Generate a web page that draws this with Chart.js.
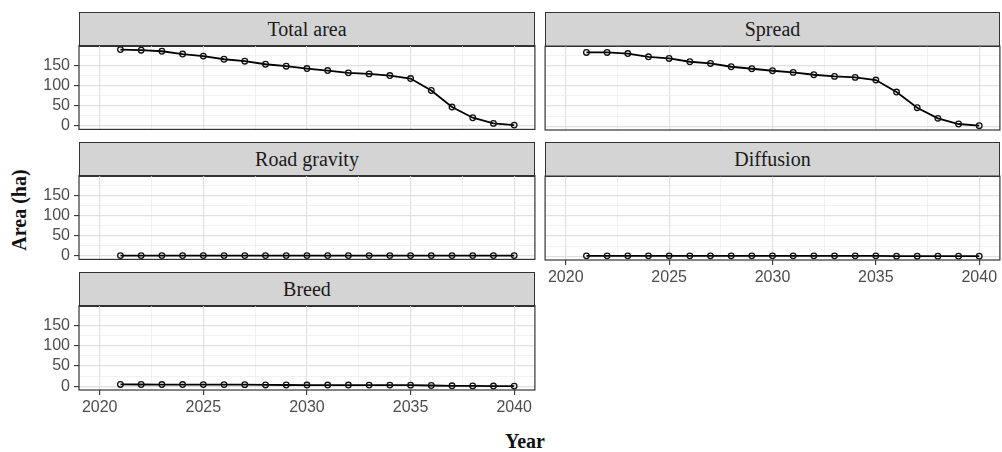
<!DOCTYPE html>
<html>
<head>
<meta charset="utf-8">
<title>Area by growth type, 2021–2040</title>
<script src="https://cdn.jsdelivr.net/npm/chart.js@4.4.1/dist/chart.umd.min.js"></script>
<style>
  html, body { margin: 0; padding: 0; background: #ffffff; }
  body { width: 1002px; height: 452px; position: relative; overflow: hidden; }
  .strip {
    position: absolute; box-sizing: border-box;
    background: #d4d4d4; border: 1px solid #333333;
    font-family: "Liberation Serif", "Times New Roman", serif;
    font-size: 20px; color: #1a1a1a;
    display: flex; align-items: center; justify-content: center;
  }
  canvas.panel { position: absolute; }
  .axis-title {
    position: absolute; white-space: nowrap;
    font-family: "Liberation Serif", "Times New Roman", serif;
    font-weight: bold; font-size: 20px; color: #111111;
    transform: translate(-50%, -50%);
  }
  .axis-title.vertical { transform: translate(-50%, -50%) rotate(-90deg); }
</style>
</head>
<body>
<div class="axis-title vertical" style="left:18.5px; top:210px;">Area (ha)</div>
<div class="axis-title" style="left:525px; top:441px;">Year</div>
<script>
// Simulated years
const years = [2021, 2022, 2023, 2024, 2025, 2026, 2027, 2028, 2029, 2030,
               2031, 2032, 2033, 2034, 2035, 2036, 2037, 2038, 2039, 2040];

// Urban growth area (ha) for each growth type
const totalArea   = [188.5, 187.0, 184.4, 177.5, 172.4, 164.6, 159.7, 152.2, 147.3, 141.5,
                     136.6, 130.8, 128.3, 124.2, 116.7, 87.0, 46.0, 19.5, 5.4, 1.2];
const spread      = [182.7, 182.7, 180.0, 171.9, 167.9, 159.7, 155.5, 147.3, 142.3, 137.4,
                     133.3, 127.5, 123.4, 120.9, 114.3, 84.6, 45.8, 19.4, 5.4, 1.2];
const roadGravity = [0, 0, 0, 0, 0, 0, 0, 0, 0, 0,
                     0, 0, 0, 0, 0, 0, 0, 0, 0, 0];
const diffusion   = [0.8, 0.8, 0.8, 0.8, 0.8, 0.8, 0.8, 0.8, 0.8, 0.8,
                     0.8, 0.8, 0.8, 0.8, 0.8, 0.1, 0.1, 0.1, 0.1, 0.1];
const breed       = [4.2, 4.1, 4.0, 4.0, 3.9, 3.8, 3.7, 3.0, 2.9, 2.8,
                     2.8, 2.7, 2.6, 2.6, 2.5, 1.6, 0.9, 0.7, 0.3, 0.1];

// Axis ticks (major ones are labelled, minor ones only carry a grid line)
const yMajorTicks = [0, 50, 100, 150];
const yMinorTicks = [25, 75, 125, 175];
const xMajorTicks = [2020, 2025, 2030, 2035, 2040];
const xMinorTicks = [2022.5, 2027.5, 2032.5, 2037.5];

// Axis ranges
const yRange = [-9.45, 198.45];
const xRange = [2019, 2041];

// Facet grid
const COL_LEFT  = [79, 545];
const COL_WIDTH = [456, 455];
const ROW_TOP   = [12, 142, 272];
const STRIP_H   = 34;
const PLOT_H    = 84;

const panels = [
  { name: 'Total area',   values: totalArea,   col: 0, row: 0, xLabels: false, yLabels: true  },
  { name: 'Spread',       values: spread,      col: 1, row: 0, xLabels: false, yLabels: false },
  { name: 'Road gravity', values: roadGravity, col: 0, row: 1, xLabels: false, yLabels: true  },
  { name: 'Diffusion',    values: diffusion,   col: 1, row: 1, xLabels: true,  yLabels: false },
  { name: 'Breed',        values: breed,       col: 0, row: 2, xLabels: true,  yLabels: true  }
];

const MAJOR_GRID = '#e0e0e0';
const MINOR_GRID = '#ededed';
const TICK_COLOR = '#333333';
const TICK_FONT = { family: '"Liberation Sans", Arial, sans-serif', size: 16 };
const TICK_TEXT = '#4d4d4d';

const isMajor = (list, v) => list.some(t => Math.abs(t - v) < 1e-6);

// Panel frame drawn over the plotted data
const panelBorder = {
  id: 'panelBorder',
  afterDatasetsDraw(chart) {
    const { ctx, chartArea: a } = chart;
    ctx.save();
    ctx.strokeStyle = '#333333';
    ctx.lineWidth = 1.2;
    ctx.strokeRect(a.left, a.top, a.right - a.left, a.bottom - a.top);
    ctx.restore();
  }
};

function axisOptions(major, minor, range, showLabels, fixedSize, isX) {
  return {
    type: 'linear',
    position: isX ? 'bottom' : 'left',
    min: range[0],
    max: range[1],
    afterBuildTicks: scale => {
      scale.ticks = major.concat(minor).sort((a, b) => a - b).map(v => ({ value: v }));
    },
    afterFit: scale => {
      if (isX) scale.height = fixedSize; else scale.width = fixedSize;
    },
    border: { display: false },
    grid: {
      color: c => isMajor(major, c.tick.value) ? MAJOR_GRID : MINOR_GRID,
      lineWidth: c => isMajor(major, c.tick.value) ? 1.2 : 0.8,
      drawTicks: showLabels,
      tickLength: 5,
      tickWidth: 1.1,
      tickColor: c => isMajor(major, c.tick.value) ? TICK_COLOR : 'rgba(0,0,0,0)'
    },
    ticks: {
      display: showLabels,
      autoSkip: false,
      maxRotation: 0,
      minRotation: 0,
      padding: isX ? 3 : 4,
      color: TICK_TEXT,
      font: TICK_FONT,
      callback: v => isMajor(major, v) ? String(v) : ''
    }
  };
}

function buildPanel(p) {
  const L = COL_LEFT[p.col], W = COL_WIDTH[p.col];
  const stripTop = ROW_TOP[p.row];
  const T = stripTop + STRIP_H, H = PLOT_H;

  const strip = document.createElement('div');
  strip.className = 'strip';
  strip.textContent = p.name;
  strip.style.left = L + 'px';
  strip.style.top = stripTop + 'px';
  strip.style.width = W + 'px';
  strip.style.height = (STRIP_H + 1) + 'px';
  document.body.appendChild(strip);

  const yW = p.yLabels ? 79 : 0;
  const xH = p.xLabels ? 34 : 6;

  const canvas = document.createElement('canvas');
  canvas.className = 'panel';
  canvas.width = W + yW + 6;
  canvas.height = H + xH + 6;
  document.body.appendChild(canvas);

  const chart = new Chart(canvas, {
    type: 'line',
    data: {
      datasets: [{
        label: p.name,
        data: years.map((yr, i) => ({ x: yr, y: p.values[i] })),
        borderColor: '#000000',
        borderWidth: 1.8,
        pointRadius: 2.8,
        pointBorderWidth: 1.3,
        pointBorderColor: '#111111',
        pointBackgroundColor: 'rgba(0,0,0,0)',
        pointHoverRadius: 2.8,
        tension: 0,
        clip: 6
      }]
    },
    options: {
      responsive: false,
      maintainAspectRatio: false,
      animation: false,
      events: [],
      layout: { padding: { top: 3, right: 3, left: 0, bottom: 0 } },
      plugins: { legend: { display: false }, tooltip: { enabled: false } },
      scales: {
        x: axisOptions(xMajorTicks, xMinorTicks, xRange, p.xLabels, xH, true),
        y: axisOptions(yMajorTicks, yMinorTicks, yRange, p.yLabels, yW, false)
      }
    },
    plugins: [panelBorder]
  });

  // Size the canvas so the plotting area is exactly W x H, then place it
  for (let i = 0; i < 3; i++) {
    const a = chart.chartArea;
    const dw = W - (a.right - a.left);
    const dh = H - (a.bottom - a.top);
    if (Math.abs(dw) < 0.5 && Math.abs(dh) < 0.5) break;
    chart.resize(Math.round(canvas.width + dw), Math.round(canvas.height + dh));
  }
  const a = chart.chartArea;
  canvas.style.left = (L - a.left) + 'px';
  canvas.style.top = (T - a.top) + 'px';
}

panels.forEach(buildPanel);
</script>
</body>
</html>
